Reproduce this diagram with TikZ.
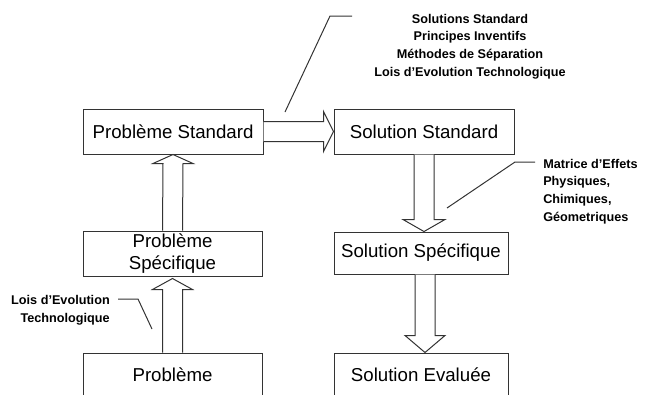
\documentclass[tikz,border=0pt]{standalone}
\usepackage{fontspec}
\setmainfont{Liberation Sans}
\usetikzlibrary{calc}
\begin{document}
\begin{tikzpicture}[x=0.75pt,y=-0.75pt,
  box/.style={draw=black!80,line width=0.75pt,fill=white,inner sep=0pt,font=\fontsize{14}{16.5}\selectfont,align=center},
  blk/.style={draw=black!80,line width=0.75pt,fill=white,line join=miter},
  lead/.style={draw=black!80,line width=0.75pt},
  note/.style={font=\bfseries\fontsize{9.5}{13.3}\selectfont,inner sep=0pt}]
\useasboundingbox (0,0) rectangle (649,394);
\clip (0,0) rectangle (649,394);
% boxes
\node[box,minimum width=135pt,minimum height=33.75pt] (ps) at (173,131.5) {Problème Standard};
\node[box,minimum width=135pt,minimum height=33.75pt] (ss) at (424,131.5) {Solution Standard};
\node[box,minimum width=134.25pt,minimum height=33.75pt] (psp) at (172.5,253.5) {Problème\\Spécifique};
\node[box,minimum width=130.5pt,minimum height=31.5pt] (ssp) at (421,253) {Solution Spécifique};
\node[box,minimum width=134.25pt,minimum height=33pt] (p) at (172.5,375) {Problème};
\node[box,minimum width=130.5pt,minimum height=33pt] (se) at (421,375) {Solution Evaluée};
% block arrows
\draw[blk] ($(ps.east)+(0,-10)$) -- ($(ss.west)+(-10,-10)$) -- ($(ss.west)+(-10,-20)$) -- (ss.west)
  -- ($(ss.west)+(-10,20)$) -- ($(ss.west)+(-10,10)$) -- ($(ps.east)+(0,10)$);
\draw[blk] ($(psp.north)+(-10,0)$) -- ($(ps.south)+(-10,9)$) -- ($(ps.south)+(-20,9)$) -- (ps.south)
  -- ($(ps.south)+(20,9)$) -- ($(ps.south)+(10,9)$) -- ($(psp.north)+(10,0)$);
\draw[blk] ($(p.north)+(-10,0)$) -- ($(psp.south)+(-10,13)$) -- ($(psp.south)+(-20,13)$) -- ($(psp.south)+(0,2)$)
  -- ($(psp.south)+(20,13)$) -- ($(psp.south)+(10,13)$) -- ($(p.north)+(10,0)$);
\coordinate (c1) at (ss.south |- ssp.north);
\draw[blk] ($(ss.south)+(-10,0)$) -- ($(c1)+(-10,-12)$) -- ($(c1)+(-21,-12)$) -- (c1)
  -- ($(c1)+(21,-12)$) -- ($(c1)+(10,-12)$) -- ($(ss.south)+(10,0)$);
\coordinate (c2) at ($(ss.south |- ssp.south)+(1,0)$);
\coordinate (c3) at (c2 |- se.north);
\draw[blk] ($(c2)+(-10,0)$) -- ($(c3)+(-10,-17)$) -- ($(c3)+(-20,-17)$) -- (c3)
  -- ($(c3)+(20,-17)$) -- ($(c3)+(10,-17)$) -- ($(c2)+(10,0)$);
% notes
\node[note,align=center] (t1) at (470,46.5) {Solutions Standard\\Principes Inventifs\\Méthodes de Séparation\\Lois d'Evolution Technologique};
\node[note,align=left,anchor=west] (t2) at (543,191.5) {Matrice d'Effets\\Physiques,\\Chimiques,\\Géometriques};
\node[note,align=right,anchor=east] (t3) at (110,310.5) {Lois d'Evolution\\Technologique};
% leaders
\coordinate (a1) at (285,112); \coordinate (a1b) at (330,16); \coordinate (a1e) at (352,16);
\draw[lead] (a1) -- (a1b) -- (a1e);
\coordinate (a2) at (447,208); \coordinate (a2b) at (515,162); \coordinate (a2e) at (535,162);
\draw[lead] (a2) -- (a2b) -- (a2e);
\coordinate (a3) at (118,299); \coordinate (a3b) at (138,299); \coordinate (a3e) at (152,329);
\draw[lead] (a3) -- (a3b) -- (a3e);
\end{tikzpicture}
\end{document}
